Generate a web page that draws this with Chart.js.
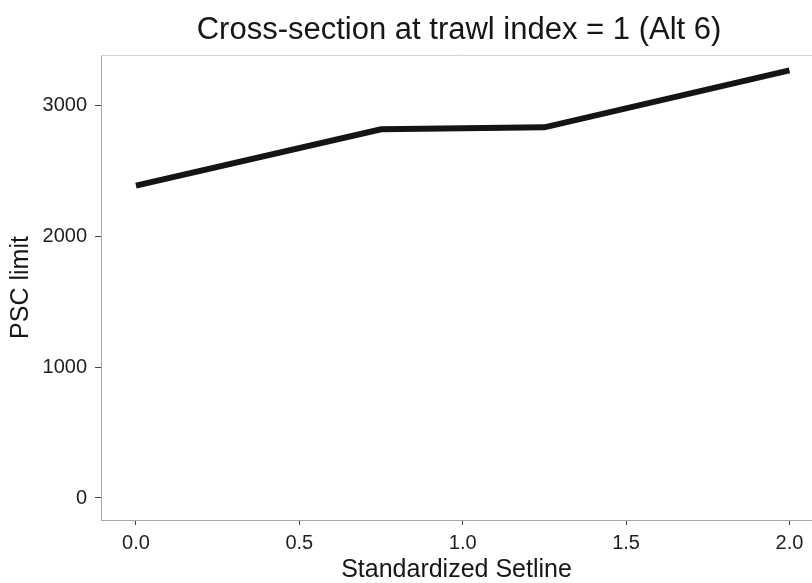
<!DOCTYPE html>
<html><head><meta charset="utf-8">
<script src="https://cdn.jsdelivr.net/npm/chart.js@4"></script>
<style>html,body{margin:0;padding:0;background:#fff;overflow:hidden}#wrap{width:812px;height:583px}</style>
</head><body><div id="wrap"><canvas id="c"></canvas></div>
<script>
const setline = [0.0, 0.75, 1.25, 2.0];
const pscLimit = [2385, 2815, 2830, 3265];
const xTicks = [0.0, 0.5, 1.0, 1.5, 2.0];
const yTicks = [0, 1000, 2000, 3000];
const titleText = 'Cross-section at trawl index = 1 (Alt 6)';

const FONT = "'Liberation Sans', Arial, sans-serif";
const deco = {
  id: 'deco',
  afterDraw(chart) {
    const {ctx, chartArea: a} = chart;
    ctx.save();
    ctx.strokeStyle = '#d2d2d2'; ctx.lineWidth = 1;
    ctx.beginPath(); ctx.moveTo(a.left, a.top + 0.5); ctx.lineTo(a.right, a.top + 0.5); ctx.stroke();
    ctx.fillStyle = '#161616';
    ctx.font = "31px " + FONT;
    ctx.textAlign = 'center'; ctx.textBaseline = 'middle';
    ctx.fillText(titleText, 459, 30);
    ctx.restore();
  }
};
new Chart(document.getElementById('c'), {
  type: 'line',
  data: { datasets: [{ data: setline.map((x, i) => ({x, y: pscLimit[i]})), borderColor: '#141414', borderWidth: 6, pointRadius: 0, tension: 0, borderJoinStyle: 'miter' }] },
  options: {
    responsive: true, maintainAspectRatio: false, animation: false,
    layout: { padding: { left: 0, right: 0, top: 55, bottom: 0 } },
    plugins: { legend: { display: false }, tooltip: { enabled: false }, title: { display: false } },
    scales: {
      x: {
        type: 'linear', min: -0.107, max: 2.069,
        afterBuildTicks: s => { s.ticks = xTicks.map(v => ({value: v})); },
        afterFit: s => { s.height = 63; },
        ticks: { callback: v => v.toFixed(1), color: '#1e1e1e', font: { family: FONT, size: 20 }, padding: 6, maxRotation: 0 },
        grid: { drawOnChartArea: false, drawTicks: true, tickLength: 5, color: '#444' },
        border: { display: true, color: '#a8a8a8', width: 1 },
        title: { display: true, text: 'Standardized Setline', color: '#161616', font: { family: FONT, size: 25, lineHeight: 1.0 }, padding: { top: 0, bottom: 0 } }
      },
      y: {
        min: -168, max: 3382,
        afterBuildTicks: s => { s.ticks = yTicks.map(v => ({value: v})); },
        afterFit: s => { s.width = 101; },
        ticks: { callback: v => String(v), color: '#1e1e1e', font: { family: FONT, size: 20 }, padding: 8 },
        grid: { drawOnChartArea: false, drawTicks: true, tickLength: 6, color: '#444' },
        border: { display: true, color: '#a8a8a8', width: 1 },
        title: { display: true, text: 'PSC limit', color: '#161616', font: { family: FONT, size: 25, lineHeight: 1.0 }, padding: { top: 9, bottom: 0 } }
      }
    }
  },
  plugins: [deco]
});
</script></body></html>
